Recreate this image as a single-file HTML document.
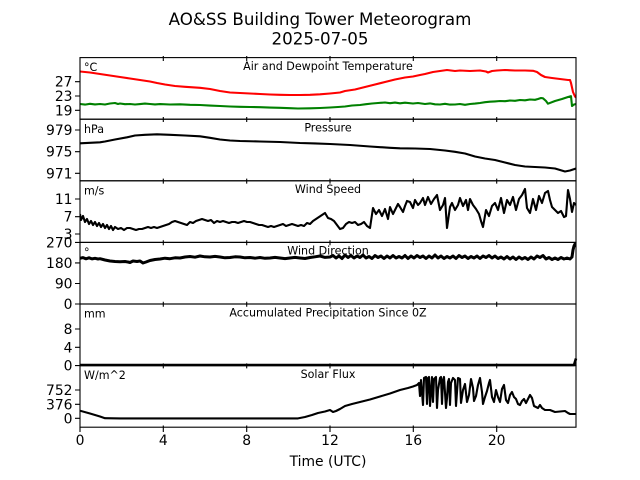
<!DOCTYPE html>
<html><head><meta charset="utf-8"><style>
html,body{margin:0;padding:0;background:#fff;}
svg{display:block;}
text{font-family:"DejaVu Sans","Liberation Sans",sans-serif;fill:#000;}
.tl{font-size:13.9px;text-anchor:end;}
.xl{font-size:13.9px;text-anchor:middle;}
.pt{font-size:11.1px;text-anchor:middle;}
.un{font-size:11.1px;}
.d{fill:none;stroke-linejoin:round;stroke-linecap:butt;}
</style></head><body>
<svg width="640" height="480" viewBox="0 0 640 480" xmlns="http://www.w3.org/2000/svg">
<rect width="640" height="480" fill="#fff"/>
<text x="320" y="25" style="font-size:16.7px" text-anchor="middle">AO&amp;SS Building Tower Meteorogram</text>
<text x="320" y="44.5" style="font-size:16.7px" text-anchor="middle">2025-07-05</text>
<defs>
<clipPath id="c1"><rect x="80" y="57.6" width="496" height="61.6"/></clipPath>
<clipPath id="c2"><rect x="80" y="119.2" width="496" height="61.6"/></clipPath>
<clipPath id="c3"><rect x="80" y="180.8" width="496" height="61.6"/></clipPath>
<clipPath id="c4"><rect x="80" y="242.4" width="496" height="61.6"/></clipPath>
<clipPath id="c6"><rect x="80" y="365.6" width="496" height="61.6"/></clipPath>
</defs>

<!-- Panel 1 data -->
<g clip-path="url(#c1)">
<polyline class="d" stroke="#ff0000" stroke-width="2.1" points="80,71.5 90,72.5 100,74 110,75.5 120,77 130,78.5 140,80 150,81.5 157,83 165,84.5 175,86 185,86.8 200,87.8 210,89 220,91 230,92.5 240,93 250,93.5 260,94 270,94.5 280,94.8 290,95 300,95 310,94.8 320,94.3 330,93.5 340,92.5 345,91 355,89.5 365,87 375,84.5 385,82 395,79.5 405,77.5 413,76.5 420,75 425,74 433,72 440,71 447,70 455,71 460,70.5 470,71 480,70.5 486,71.5 488,72.5 492,71 497,70.5 505,70 515,70.5 525,70.5 533,70.8 537,72 541,75 545,77 552,78 560,79 568,80 570,80 571,83 573,92 575,96.5 576,97.5"/>
<polyline class="d" stroke="#008000" stroke-width="2.1" points="80,104 85,104.6 90,103.8 95,104.4 100,104 105,104.5 110,103.5 115,103 118,104 120,103.5 125,104.2 130,104 135,104.5 140,104.1 145,103.6 150,104 155,104.4 160,104.1 170,104.5 180,104.3 190,104.8 200,105 210,105.6 220,106 230,106.5 240,106.8 250,107 260,107.2 270,107.6 280,107.8 290,108.2 298,108.5 310,108.3 320,108 330,107.5 338,107 345,106.5 352,105.5 360,105 366,104.2 372,103.5 378,103 385,102.5 390,103.2 395,102.6 400,103.3 405,102.7 413,103.5 418,103 425,104 430,103.4 435,104.3 440,104.5 445,103.8 450,104.6 455,104.5 460,104 465,104.8 470,104 475,103.6 480,103 485,102.2 490,101.7 495,101.4 500,101 505,101.2 510,100.5 515,100.8 520,100 525,100.3 530,99.5 535,99.8 538,99 541,98 543,98.3 546,101 548,103.7 555,101 562,99 568,97 571,96.2 572,106 574,104.5 576,104"/>
</g>

<!-- Panel 2 data -->
<g clip-path="url(#c2)">
<polyline class="d" stroke="#000" stroke-width="2.1" points="80,143.3 90,142.8 100,142.3 105,141.5 115,139.5 127,137.3 135,135.5 145,134.8 157,134.3 170,134.8 185,135.5 200,136.3 210,137.8 220,139.5 230,140.5 240,141 260,141.5 280,142 300,143 315,143.4 330,144 350,145 370,146.5 390,147.8 400,148.3 415,148.5 430,149 445,150.5 455,151.8 465,153.5 475,156.5 485,158.5 495,160 505,162.5 515,165 525,166.5 535,167 545,167.5 555,168.5 565,171.5 570,170.5 576,168.5"/>
</g>

<!-- Panel 3 data -->
<g clip-path="url(#c3)">
<polyline class="d" stroke="#000" stroke-width="2.1" points="80,214 81,220 83,216 85,222 87,219 89,224 91,221 93,225 95,222 97,226 99,223 101,227 103,224 105,228 107,225 109,229 111,226 113,230 115,227 118,229 121,228 124,230 127,228 130,228 133,229 136,230 139,229 142,229 145,228 148,227 151,228 154,227 157,228 160,227 163,226 166,225 169,224 172,222 175,221 178,222 181,223 184,224 187,225 190,222 193,223 196,221 199,220 202,219 205,220 208,221 211,220 214,223 217,221 220,222 223,221 226,222 229,223 232,222 235,222 238,223 241,222 244,221 247,222 250,222 253,223 256,224 259,225 262,225 265,226 268,227 271,226 274,227 277,226 280,225 283,224 286,226 289,225 292,224 295,225 298,226 301,225 304,226 307,223 310,224 313,221 316,219 319,217 322,215 325,213 328,218 331,219 334,221 337,225 340,229 343,228 346,224 349,222 352,223 355,222 358,225 361,224 364,222 367,226 370,228 373,208 376,214 379,210 382,216 385,209 388,219 390,207 393,214 395,210 398,204 400,207 403,212 405,206 407,201 410,202 413,208 415,200 418,205 420,203 423,198 425,205 428,197 431,204 434,199 437,195 440,210 443,205 445,198 447,228 450,207 452,203 455,210 458,205 460,198 463,206 466,200 468,210 470,199 473,205 476,209 479,214 481,221 483,227 486,210 489,216 492,206 495,203 498,210 501,198 504,213 507,200 510,205 513,197 516,210 519,199 522,195 525,189 527,208 530,213 533,199 536,210 539,196 542,203 545,193 548,191 550,200 552,207 555,210 558,213 561,211 564,217 566,216 568,190 570,199 572,212 574,203 576,205"/>
</g>

<!-- Panel 4 data -->
<g clip-path="url(#c4)">
<polyline class="d" stroke="#000" stroke-width="3" points="80,258.3 83,257.6 86,258.8 89,257.8 92,258.9 95,258.3 98,259 100,258.7 105,260 110,261 115,261.5 120,261.7 125,261.5 128,262 130,262.5 133,261 137,261.5 140,261 143,263 146,262 150,260.5 155,259.5 160,259 165,258.2 170,258.7 175,257.8 180,258 185,257 190,256.5 195,257.2 200,256 205,256.8 210,257 215,256.4 220,257 225,257.8 230,257.5 235,256.8 240,257 245,257.8 250,257.5 255,258.2 260,257.5 265,258.3 270,258 275,257.4 280,258 285,258.6 290,258 295,257.4 300,258 305,258.5 310,257.5 315,256.8 320,256 325,257.4 330,257 333,255.5 336,258 339,256 342,258.5 345,255 348,257.5 351,255.5 354,258 357,256 360,257.5 363,255 366,258 369,256.5 372,258.5 375,255.5 378,257.5 381,256 384,258.5 387,256 390,258 393,255.5 396,258 399,256.5 402,258 405,255.5 408,258.5 411,256 414,258 417,255.5 420,257.5 423,256 426,258.5 429,256 432,258 435,255 438,258 441,256 444,258.5 447,256.5 450,258 453,256 456,258.5 459,255.5 462,257.5 465,256 468,258.5 471,256.5 474,258 477,256 480,258.5 483,256 486,257.5 489,255.5 492,258 495,256 498,258.5 501,257 504,259 507,256.5 510,259 513,257 516,259.5 519,257 522,259 525,257.5 528,259.5 531,257 534,259 537,256 540,257.5 543,255.5 546,259 549,257.5 552,259.5 555,258 558,259.5 561,257.5 564,259 567,258 570,259 572,257 573,250 574,246 575,244 576,247"/>
</g>

<!-- Panel 5 data -->
<polyline class="d" stroke="#000" stroke-width="2.6" points="80,365 574,365 576,358.5"/>

<!-- Panel 6 data -->
<g clip-path="url(#c6)">
<polyline class="d" stroke="#000" stroke-width="2.1" points="80,410.7 90,413.5 100,416.5 105,418.2 120,418.4 298,418.4 305,417 312,415 318,413 325,411.5 330,410 333,412 336,411 340,409 345,406 352,404 360,402 370,399.5 380,396.5 390,393.5 400,390 408,388 413,386.5 417,385 419,383 420,396 421,380 423,405 424,378 426,377 427,404 428,378 429,377 430,406 432,377 433,402 434,379 436,377 437,408 438,390 440,378 441,377 442,404 443,380 444,377 446,408 447,398 448,382 449,379 450,405 451,383 453,378 455,380 456,406 458,378 460,379 461,403 463,390 465,384 467,402 469,395 471,379 473,388 474,401 476,396 478,385 480,378 482,392 483,404 485,397 487,391 489,383 490,380 492,397 494,402 496,390 498,397 500,402 502,389 504,385 506,400 508,403 510,395 512,392 514,397 516,399 518,404 520,405 522,401 524,399 526,403 528,399 530,395 532,398 534,406 536,407 538,408 540,405 542,408 545,410 550,410 555,412 560,411.5 565,411 568,413 570,414 576,414"/>
</g>

<!-- Spines -->
<g fill="none" stroke="#000" stroke-width="1.1">
<rect x="80" y="57.6" width="496" height="61.6"/>
<rect x="80" y="119.2" width="496" height="61.6"/>
<rect x="80" y="180.8" width="496" height="61.6"/>
<rect x="80" y="242.4" width="496" height="61.6"/>
<rect x="80" y="304" width="496" height="61.6"/>
<rect x="80" y="365.6" width="496" height="61.6"/>
</g>

<!-- X ticks -->
<g stroke="#000" stroke-width="1.1">
<path d="M163.3,56 V61 M246.7,56 V61 M330,56 V61 M413.3,56 V61 M496.7,56 V61"/>
<path d="M163.3,117 V122 M246.7,117 V122 M330,117 V122 M413.3,117 V122 M496.7,117 V122"/>
<path d="M163.3,178.6 V183.6 M246.7,178.6 V183.6 M330,178.6 V183.6 M413.3,178.6 V183.6 M496.7,178.6 V183.6"/>
<path d="M163.3,240.2 V245.2 M246.7,240.2 V245.2 M330,240.2 V245.2 M413.3,240.2 V245.2 M496.7,240.2 V245.2"/>
<path d="M163.3,301.8 V306.8 M246.7,301.8 V306.8 M330,301.8 V306.8 M413.3,301.8 V306.8 M496.7,301.8 V306.8"/>
<path d="M163.3,363.4 V368.4 M246.7,363.4 V368.4 M330,363.4 V368.4 M413.3,363.4 V368.4 M496.7,363.4 V368.4"/>
<path d="M80,427.2 V432 M163.3,425.5 V432 M246.7,425.5 V432 M330,425.5 V432 M413.3,425.5 V432 M496.7,425.5 V432"/>
</g>

<!-- Y ticks -->
<g stroke="#000" stroke-width="1.1">
<path d="M75,81.7 H80 M75,96 H80 M75,110.3 H80"/>
<path d="M75,130 H80 M75,151.7 H80 M75,173.3 H80"/>
<path d="M75,199 H80 M75,216.7 H80 M75,234 H80"/>
<path d="M75,242.4 H80 M75,262.9 H80 M75,283.5 H80 M75,304 H80"/>
<path d="M75,329 H80 M75,347.3 H80 M75,365.6 H80"/>
<path d="M75,390 H80 M75,404.3 H80 M75,418.3 H80"/>
</g>

<!-- Y tick labels -->
<text class="tl" x="72.5" y="86.7">27</text>
<text class="tl" x="72.5" y="101">23</text>
<text class="tl" x="72.5" y="115.3">19</text>
<text class="tl" x="72.5" y="135">979</text>
<text class="tl" x="72.5" y="156.7">975</text>
<text class="tl" x="72.5" y="178.3">971</text>
<text class="tl" x="72.5" y="204">11</text>
<text class="tl" x="72.5" y="221.7">7</text>
<text class="tl" x="72.5" y="239">3</text>
<text class="tl" x="72.5" y="247.4">270</text>
<text class="tl" x="72.5" y="267.9">180</text>
<text class="tl" x="72.5" y="288.5">90</text>
<text class="tl" x="72.5" y="309">0</text>
<text class="tl" x="72.5" y="334">8</text>
<text class="tl" x="72.5" y="352.3">4</text>
<text class="tl" x="72.5" y="370.6">0</text>
<text class="tl" x="72.5" y="395">752</text>
<text class="tl" x="72.5" y="409.3">376</text>
<text class="tl" x="72.5" y="423.3">0</text>

<!-- X tick labels -->
<text class="xl" x="80" y="445">0</text>
<text class="xl" x="163.3" y="445">4</text>
<text class="xl" x="246.7" y="445">8</text>
<text class="xl" x="330" y="445">12</text>
<text class="xl" x="413.3" y="445">16</text>
<text class="xl" x="496.7" y="445">20</text>
<text class="xl" x="328" y="466">Time (UTC)</text>

<!-- Panel titles -->
<text class="pt" x="328" y="69.9">Air and Dewpoint Temperature</text>
<text class="pt" x="328" y="131.5">Pressure</text>
<text class="pt" x="328" y="193.1">Wind Speed</text>
<text class="pt" x="328" y="254.7">Wind Direction</text>
<text class="pt" x="328" y="316.3">Accumulated Precipitation Since 0Z</text>
<text class="pt" x="328" y="377.9">Solar Flux</text>

<!-- Units -->
<text class="un" x="84" y="71.2">°C</text>
<text class="un" x="84" y="132.8">hPa</text>
<text class="un" x="84" y="194.4">m/s</text>
<text class="un" x="84" y="256">°</text>
<text class="un" x="84" y="317.6">mm</text>
<text class="un" x="84" y="379.2">W/m^2</text>
</svg>
</body></html>
